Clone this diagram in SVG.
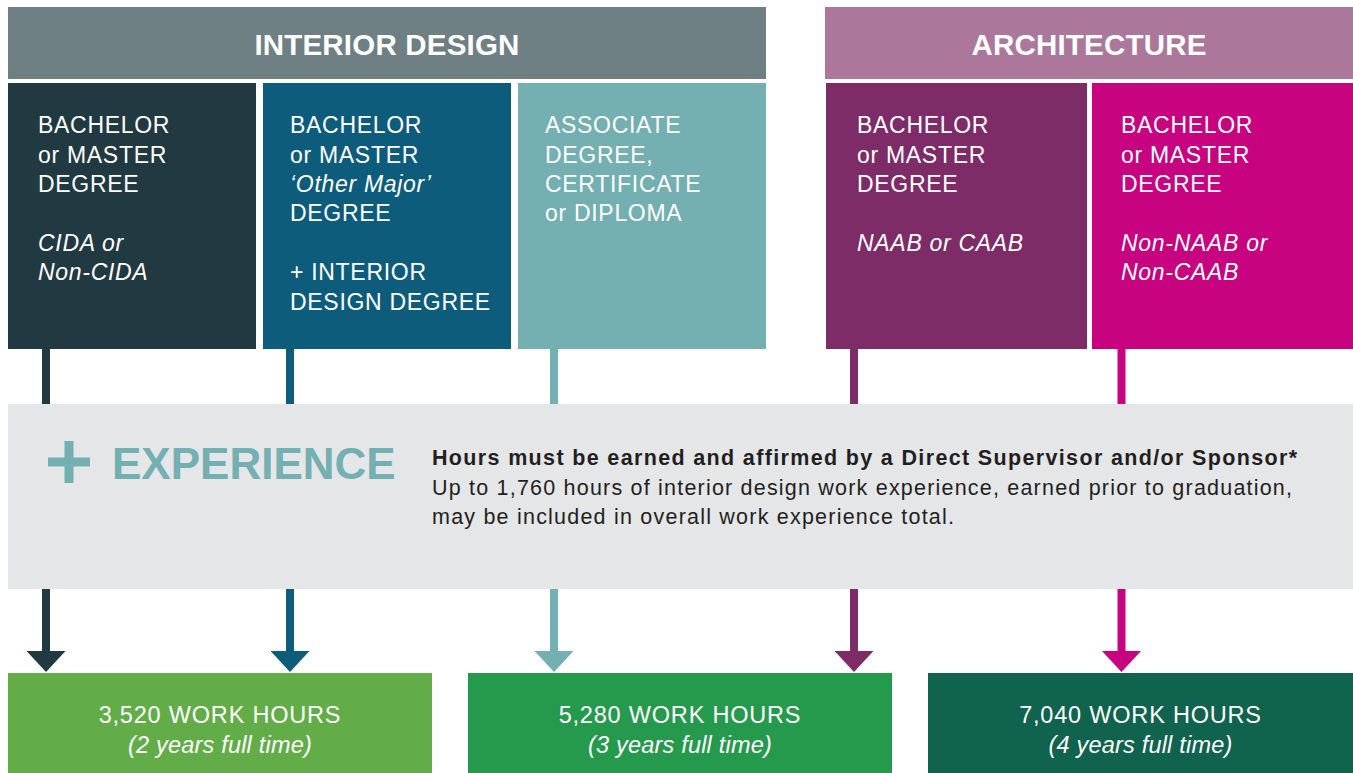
<svg xmlns="http://www.w3.org/2000/svg" width="1353" height="773" viewBox="0 0 1353 773">
<defs>
<style>
text{font-family:"Liberation Sans",Arial,sans-serif;}
.hdr{font-size:29.5px;font-weight:bold;fill:#fff;text-anchor:middle;letter-spacing:0.2px;}
.bx{font-size:23px;fill:#fff;letter-spacing:0.7px;}
.it{font-style:italic;}
.bt{font-size:23.5px;fill:#fff;text-anchor:middle;letter-spacing:0.8px;}
.bti{font-size:23.5px;fill:#fff;text-anchor:middle;font-style:italic;letter-spacing:0.2px;}
.exp{font-size:21.5px;fill:#231F20;}
.c1{stroke:#213A41;}.c2{stroke:#0E5C7B;}.c3{stroke:#74AFB1;}.c4{stroke:#7E2C67;}.c5{stroke:#C7037F;}
.conn line{stroke-width:8;fill:none;}
</style>
<marker id="a1" markerUnits="userSpaceOnUse" viewBox="0 0 21 39" markerWidth="21" markerHeight="39" refX="0" refY="19.5" orient="auto"><path d="M0,0 L21,19.5 L0,39 Z" fill="#213A41"/></marker>
<marker id="a2" markerUnits="userSpaceOnUse" viewBox="0 0 21 39" markerWidth="21" markerHeight="39" refX="0" refY="19.5" orient="auto"><path d="M0,0 L21,19.5 L0,39 Z" fill="#0E5C7B"/></marker>
<marker id="a3" markerUnits="userSpaceOnUse" viewBox="0 0 21 39" markerWidth="21" markerHeight="39" refX="0" refY="19.5" orient="auto"><path d="M0,0 L21,19.5 L0,39 Z" fill="#74AFB1"/></marker>
<marker id="a4" markerUnits="userSpaceOnUse" viewBox="0 0 21 39" markerWidth="21" markerHeight="39" refX="0" refY="19.5" orient="auto"><path d="M0,0 L21,19.5 L0,39 Z" fill="#7E2C67"/></marker>
<marker id="a5" markerUnits="userSpaceOnUse" viewBox="0 0 21 39" markerWidth="21" markerHeight="39" refX="0" refY="19.5" orient="auto"><path d="M0,0 L21,19.5 L0,39 Z" fill="#C7037F"/></marker>
</defs>
<rect width="1353" height="773" fill="#fff"/>

<g id="connectors" class="conn">
<line class="c1" x1="46" y1="349" x2="46" y2="404"/>
<line class="c2" x1="290" y1="349" x2="290" y2="404"/>
<line class="c3" x1="554" y1="349" x2="554" y2="404"/>
<line class="c4" x1="854" y1="349" x2="854" y2="404"/>
<line class="c5" x1="1121.5" y1="349" x2="1121.5" y2="404"/>
<line class="c1" x1="46" y1="589" x2="46" y2="651" marker-end="url(#a1)"/>
<line class="c2" x1="290" y1="589" x2="290" y2="651" marker-end="url(#a2)"/>
<line class="c3" x1="554" y1="589" x2="554" y2="651" marker-end="url(#a3)"/>
<line class="c4" x1="854" y1="589" x2="854" y2="651" marker-end="url(#a4)"/>
<line class="c5" x1="1121.5" y1="589" x2="1121.5" y2="651" marker-end="url(#a5)"/>
</g>

<g id="header-interior">
<rect x="8" y="7" width="758" height="72" fill="#6E8083"/>
<text class="hdr" x="387" y="55">INTERIOR DESIGN</text>
</g>
<g id="header-architecture">
<rect x="825" y="7" width="528" height="72" fill="#AB789B"/>
<text class="hdr" x="1089" y="55">ARCHITECTURE</text>
</g>

<g id="box-cida">
<rect x="8" y="83" width="248" height="266" fill="#213A41"/>
<text class="bx"><tspan x="38" y="133">BACHELOR</tspan><tspan x="38" y="162.5">or MASTER</tspan><tspan x="38" y="192">DEGREE</tspan><tspan class="it" x="38" y="250.5">CIDA or</tspan><tspan class="it" x="38" y="280">Non-CIDA</tspan></text>
</g>
<g id="box-other-major">
<rect x="263" y="83" width="248" height="266" fill="#0E5C7B"/>
<text class="bx"><tspan x="290" y="133">BACHELOR</tspan><tspan x="290" y="162.5">or MASTER</tspan><tspan class="it" x="290" y="192">‘Other Major’</tspan><tspan x="290" y="221">DEGREE</tspan><tspan x="290" y="280">+ INTERIOR</tspan><tspan x="290" y="309.5">DESIGN DEGREE</tspan></text>
</g>
<g id="box-associate">
<rect x="518" y="83" width="248" height="266" fill="#74AFB1"/>
<text class="bx"><tspan x="545" y="133">ASSOCIATE</tspan><tspan x="545" y="162.5">DEGREE,</tspan><tspan x="545" y="192">CERTIFICATE</tspan><tspan x="545" y="221">or DIPLOMA</tspan></text>
</g>
<g id="box-naab">
<rect x="826" y="83" width="261" height="266" fill="#7E2C67"/>
<text class="bx"><tspan x="857" y="133">BACHELOR</tspan><tspan x="857" y="162.5">or MASTER</tspan><tspan x="857" y="192">DEGREE</tspan><tspan class="it" x="857" y="250.5">NAAB or CAAB</tspan></text>
</g>
<g id="box-non-naab">
<rect x="1092" y="83" width="261" height="266" fill="#C7037F"/>
<text class="bx"><tspan x="1121" y="133">BACHELOR</tspan><tspan x="1121" y="162.5">or MASTER</tspan><tspan x="1121" y="192">DEGREE</tspan><tspan class="it" x="1121" y="250.5">Non-NAAB or</tspan><tspan class="it" x="1121" y="280">Non-CAAB</tspan></text>
</g>

<g id="experience">
<rect x="8" y="404" width="1345" height="185" fill="#E5E6E8"/>
<path d="M48,457.5 H90 V466.5 H48 Z M64.5,441 H73.5 V483 H64.5 Z" fill="#74AFB1"/>
<text x="112" y="479" font-size="44" font-weight="bold" fill="#74AFB1">EXPERIENCE</text>
<text class="exp" x="432" y="465" font-weight="bold" textLength="865" lengthAdjust="spacing">Hours must be earned and affirmed by a Direct Supervisor and/or Sponsor*</text>
<text class="exp" x="432" y="495" textLength="860" lengthAdjust="spacing">Up to 1,760 hours of interior design work experience, earned prior to graduation,</text>
<text class="exp" x="432" y="524" textLength="522" lengthAdjust="spacing">may be included in overall work experience total.</text>
</g>

<g id="result-2yr">
<rect x="8" y="673" width="424" height="100" fill="#62AD48"/>
<text class="bt" x="220" y="723">3,520 WORK HOURS</text>
<text class="bti" x="220" y="753">(2 years full time)</text>
</g>
<g id="result-3yr">
<rect x="468" y="673" width="424" height="100" fill="#259A4C"/>
<text class="bt" x="680" y="723">5,280 WORK HOURS</text>
<text class="bti" x="680" y="753">(3 years full time)</text>
</g>
<g id="result-4yr">
<rect x="928" y="673" width="425" height="100" fill="#10634C"/>
<text class="bt" x="1140.5" y="723">7,040 WORK HOURS</text>
<text class="bti" x="1140.5" y="753">(4 years full time)</text>
</g>
</svg>
